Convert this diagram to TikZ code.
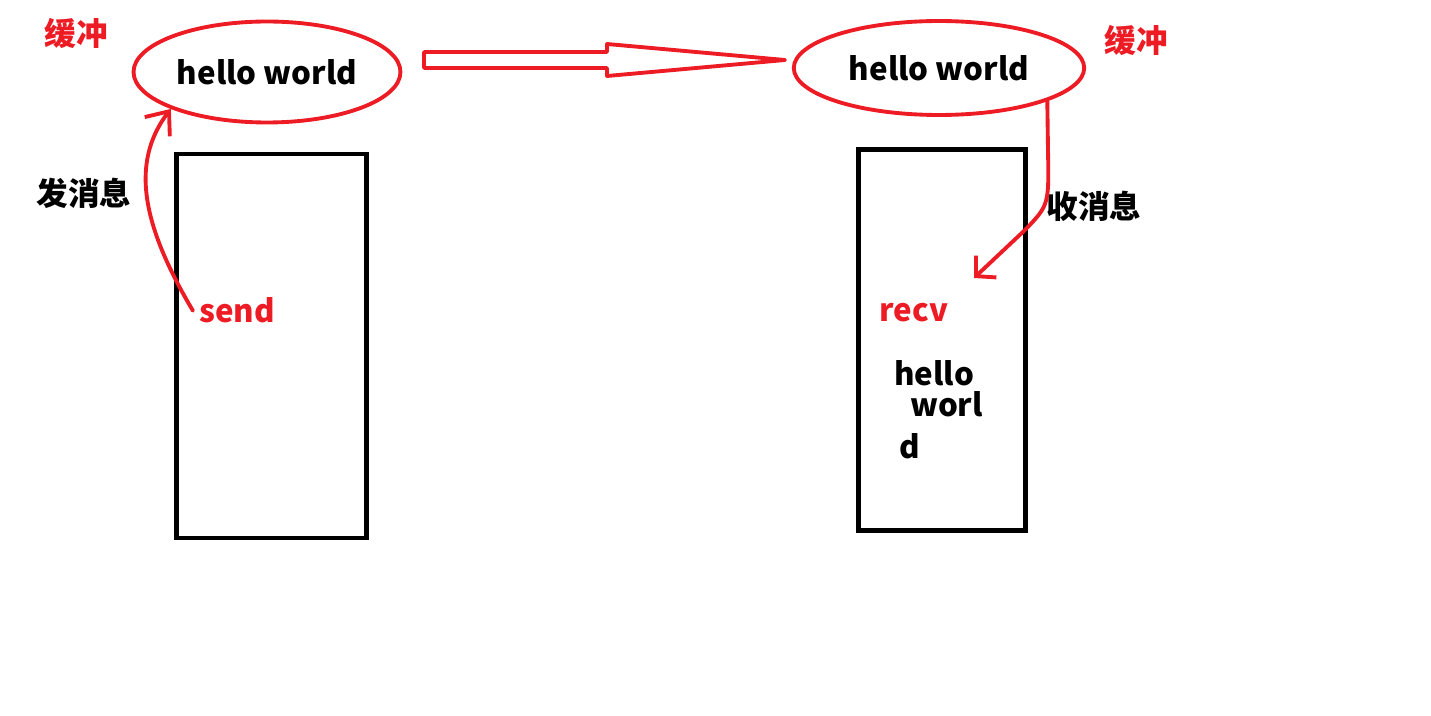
\documentclass[tikz,border=0pt]{standalone}
\usepackage{fontspec}
\setmainfont{Noto Sans CJK SC}
\usetikzlibrary{shapes.geometric,arrows.meta}
\definecolor{paintred}{HTML}{ED1C24}
\tikzset{
  buffer/.style={ellipse, draw=paintred, line width=2.2pt, inner sep=0pt,
    font=\fontsize{17.8}{22}\selectfont\bfseries},
  process/.style={rectangle, draw=black, line width=2.8pt},
  tag/.style={text=paintred, font=\fontsize{18}{22}\selectfont\bfseries},
  action/.style={font=\fontsize{18}{22}\selectfont\bfseries},
  redword/.style={text=paintred, font=\fontsize{17.8}{22}\selectfont\bfseries},
  word/.style={font=\fontsize{17.8}{22}\selectfont\bfseries, inner sep=0pt},
  msgflow/.style={draw=paintred, line width=2.2pt, line cap=round, line join=round}
}

\begin{document}
\begin{tikzpicture}[x=0.02cm, y=-0.02cm]
  \useasboundingbox (0,0) rectangle (1431,716);
  %buffers
  \node[buffer, minimum width=5.34cm, minimum height=2.02cm] (bufL) at (267,72) {hello world};
  \node[buffer, minimum width=5.81cm, minimum height=1.88cm] (bufR) at (939,68) {hello world};
  \node[tag] (tagL) at (76.5,33) {缓冲};
  \node[tag] (tagR) at (1136,40) {缓冲};
  %processes
  \node[process, minimum width=3.8cm, minimum height=7.68cm] (sender) at (271.5,346) {};
  \node[process, minimum width=3.33cm, minimum height=7.61cm] (receiver) at (942,340) {};
  \node[redword, anchor=base] (send) at (237,323) {send};
  \node[redword, anchor=base] (recv) at (914,322) {recv};
  \node[word, anchor=base west] (msgA) at (894,385) {hello};
  \node[word, anchor=base west] (msgB) at (910,417) {worl};
  \node[word, anchor=base west] (msgC) at (899,459) {d};
  \node[action] (sendop) at (84,193) {发消息};
  \node[action] (recvop) at (1094,206) {收消息};
  \coordinate (recvtip) at (974,278);
  %send and receive
  \draw[msgflow, -{Straight Barb[length=11pt,width=18pt]}]
        (send.west) .. controls (145,230) and (128,165) .. (bufL.201);
  \draw[msgflow, -{Straight Barb[length=8pt,width=17pt]}]
        (bufR.-17.5) -- (1048,150) .. controls (1049,205) .. (1025,230) -- (recvtip);
  %transfer arrow
  \draw[paintred, line width=2.2pt, line join=round]
        (424,52) -- (607,52) -- (607,44) -- (785,60) -- (607,76) -- (607,68) -- (424,68) -- cycle;
\end{tikzpicture}
\end{document}
